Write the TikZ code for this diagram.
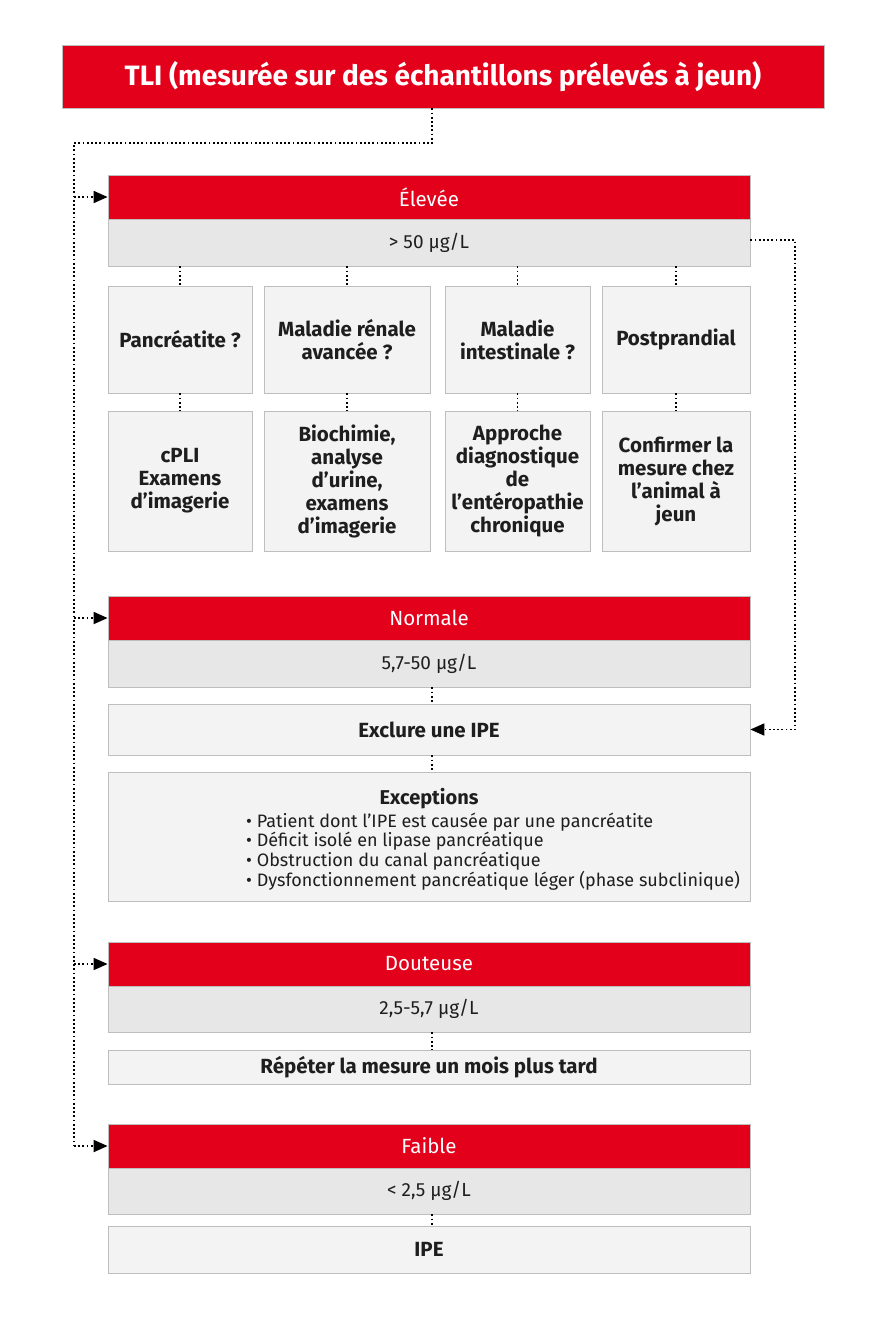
\documentclass[tikz,border=0pt]{standalone}
\usepackage{fontspec}
\setmainfont{Fira Sans}
\usetikzlibrary{arrows.meta}
\definecolor{tred}{HTML}{E2001A}
\definecolor{rowgrey}{HTML}{E7E7E7}
\definecolor{boxgrey}{HTML}{F3F3F3}
\definecolor{edgegrey}{HTML}{BEBEBE}
\definecolor{txt}{HTML}{1E1E1E}
\begin{document}
\begin{tikzpicture}[x=1pt,y=-1pt,
  redhdr/.style={draw=edgegrey, line width=0.8pt, fill=tred, text=white, minimum width=642, minimum height=44, inner sep=0pt, font=\fontsize{20.5}{23}\selectfont},
  valrow/.style={draw=edgegrey, line width=0.8pt, fill=rowgrey, text=txt, minimum width=642, inner sep=0pt, font=\fontsize{19}{22}\selectfont},
  lightbox/.style={draw=edgegrey, line width=0.8pt, fill=boxgrey, text=txt, inner sep=0pt, align=center, font=\bfseries\fontsize{20.5}{23}\selectfont},
  dotline/.style={line width=1.8pt, dash pattern=on 1.8pt off 2.4pt, black},
  arr/.style={-{Triangle[length=14pt,width=12pt]}}
]
\useasboundingbox (0,0) rectangle (868,1320);
\fill[white] (0,0) rectangle (868,1320);

% title
\node[draw=edgegrey, line width=0.8pt, fill=tred, text=white, minimum width=762, minimum height=63, inner sep=0pt, font=\bfseries\fontsize{28}{32}\selectfont] (title) at (443,76.5) {TLI (mesurée sur des échantillons prélevés à jeun)};

% Élevée
\node[redhdr] (elev) at (429,197) {Élevée};
\node[valrow, minimum height=47] (elevv) at (429,242.5) {> 50 µg/L};

\node[lightbox, minimum width=144, minimum height=107] (q1) at (180,339.5) {Pancréatite ?};
\node[lightbox, minimum width=166, minimum height=107] (q2) at (347,339.5) {Maladie rénale\\avancée ?};
\node[lightbox, minimum width=145, minimum height=107] (q3) at (517.5,339.5) {Maladie\\intestinale ?};
\node[lightbox, minimum width=148, minimum height=107] (q4) at (676,339.5) {Postprandial};

\node[lightbox, minimum width=144, minimum height=140] (a1) at (180,481) {cPLI\\Examens\\d’imagerie};
\node[lightbox, minimum width=166, minimum height=140] (a2) at (347,481) {Biochimie,\\analyse\\d’urine,\\examens\\d’imagerie};
\node[lightbox, minimum width=145, minimum height=140] (a3) at (517.5,481) {Approche\\diagnostique\\de\\l’entéropathie\\chronique};
\node[lightbox, minimum width=148, minimum height=140] (a4) at (676,481) {Confirmer la\\mesure chez\\l’animal à\\jeun};

% Normale
\node[redhdr] (norm) at (429,618) {Normale};
\node[valrow, minimum height=47] (normv) at (429,663.5) {5,7-50 µg/L};
\node[lightbox, minimum width=642, minimum height=51] (excl) at (429,729.5) {Exclure une IPE};
\node[lightbox, minimum width=642, minimum height=129] (exc) at (429,836.5) {};
\node[text=txt, font=\bfseries\fontsize{20}{22}\selectfont, inner sep=0pt] (exct) at (429,798.5) {Exceptions};
\node[text=txt, anchor=north west, align=left, inner sep=0pt, font=\fontsize{18}{19.8}\selectfont] (excl-list) at (246,812.5)
{• Patient dont l’IPE est causée par une pancréatite\\
• Déficit isolé en lipase pancréatique\\
• Obstruction du canal pancréatique\\
• Dysfonctionnement pancréatique léger (phase subclinique)};

% Douteuse
\node[redhdr] (dout) at (429,964) {Douteuse};
\node[valrow, minimum height=46] (doutv) at (429,1009) {2,5-5,7 µg/L};
\node[lightbox, minimum width=642, minimum height=34] (rep) at (429,1067) {Répéter la mesure un mois plus tard};

% Faible
\node[redhdr] (faib) at (429,1146) {Faible};
\node[valrow, minimum height=46] (faibv) at (429,1191) {< 2,5 µg/L};
\node[lightbox, minimum width=642, minimum height=47] (ipe) at (429,1249.5) {IPE};

% connectors
\coordinate (tdrop) at (432,108);
\coordinate (tcorner) at (432,143);
\coordinate (lcorner) at (74,143);
\draw[dotline] (title.south -| tdrop) -- (tcorner) -- (lcorner) -- (lcorner |- faib.west);
\draw[dotline, arr] (lcorner |- elev.west) -- (elev.west);
\draw[dotline, arr] (lcorner |- norm.west) -- (norm.west);
\draw[dotline, arr] (lcorner |- dout.west) -- (dout.west);
\draw[dotline, arr] (lcorner |- faib.west) -- (faib.west);

\coordinate (rcorner) at (795,240);
\draw[dotline, arr] (elevv.east |- rcorner) -- (rcorner) -- (rcorner |- excl.east) -- (excl.east);

\foreach \q/\a in {q1/a1,q2/a2,q3/a3,q4/a4}{
  \draw[dotline] (elevv.south -| \q.north) -- (\q.north);
  \draw[dotline] (\q.south) -- (\a.north);
}
\draw[dotline] (normv.south -| tdrop) -- (excl.north -| tdrop);
\draw[dotline] (excl.south -| tdrop) -- (exc.north -| tdrop);
\draw[dotline] (doutv.south -| tdrop) -- (rep.north -| tdrop);
\draw[dotline] (faibv.south -| tdrop) -- (ipe.north -| tdrop);
\end{tikzpicture}
\end{document}
